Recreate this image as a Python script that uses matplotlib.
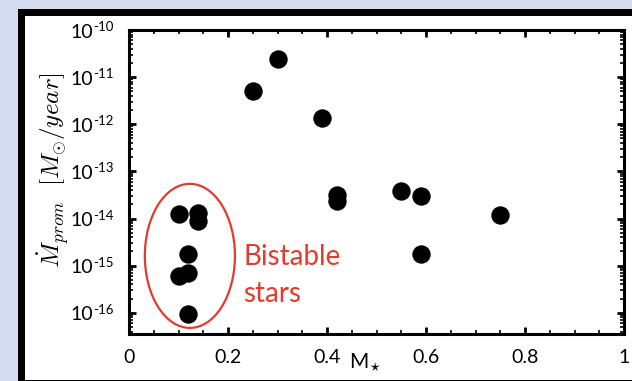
import matplotlib
matplotlib.use("Agg")
import matplotlib.pyplot as plt
from matplotlib.patches import Rectangle, Ellipse
from matplotlib.ticker import LogLocator, MultipleLocator, FixedLocator, NullFormatter

plt.rcParams['font.family'] = ['Lato', 'DejaVu Sans']
plt.rcParams['mathtext.fontset'] = 'cm'

mass = [0.30, 0.25, 0.39, 0.42, 0.42, 0.55, 0.59, 0.75, 0.59,
        0.10, 0.14, 0.14, 0.12, 0.10, 0.12, 0.12]
mdot = [2.4e-11, 5.1e-12, 1.38e-12, 3.1e-14, 2.3e-14, 3.8e-14, 2.95e-14, 1.17e-14, 1.8e-15,
        1.23e-14, 1.29e-14, 8.7e-15, 1.75e-15, 6.0e-16, 6.9e-16, 9.4e-17]
xticks = [0, 0.2, 0.4, 0.6, 0.8, 1]
xticklabels = ['0', '0.2', '0.4', '0.6', '0.8', '1']
ydecades = [-16, -15, -14, -13, -12, -11, -10]

W, H = 632, 381
PT = 0.72  # points per pixel at dpi 100
fig = plt.figure(figsize=(W / 100, H / 100), dpi=100)
fig.patch.set_facecolor('#d3dbee')

# black frame with white inside (extends beyond right/bottom edges)
lw_px = 7
frame = Rectangle((20.5 / W, -1.5 / H), 1.2, (H - 11.5 + 1.5) / H,
                  transform=fig.transFigure, facecolor='white', edgecolor='black',
                  linewidth=lw_px * PT, zorder=-5)
fig.patches.append(frame)

ax = fig.add_axes([129 / W, (H - 334) / H, 495 / W, 304 / H])
ax.set_facecolor('white')
ax.set_yscale('log')
ax.set_xlim(0, 1)
ax.set_ylim(10 ** -16.45, 1e-10)

ax.scatter(mass, mdot, s=175, color='black', zorder=3, linewidths=0)

for sp in ax.spines.values():
    sp.set_linewidth(2.2)

ax.xaxis.set_major_locator(FixedLocator(xticks))
ax.set_xticklabels(xticklabels, fontsize=14)
ax.xaxis.set_minor_locator(MultipleLocator(0.05))
ax.yaxis.set_major_locator(FixedLocator([10.0 ** d for d in ydecades]))
ax.set_yticklabels([''] * len(ydecades))
ax.yaxis.set_minor_locator(LogLocator(base=10, subs=range(2, 10), numticks=20))
ax.yaxis.set_minor_formatter(NullFormatter())

ax.tick_params(which='major', direction='in', length=5, width=2, top=True, right=True)
ax.tick_params(which='minor', direction='in', length=3, width=1.2, top=True, right=True)
ax.tick_params(axis='x', which='major', pad=11)

# y tick labels "10" with hyphen superscript exponent
for d in ydecades:
    ax.annotate('10', xy=(0, 10.0 ** d), xycoords=('axes fraction', 'data'),
                xytext=(-36 * PT, -2 * PT), textcoords='offset points',
                ha='right', va='center', fontsize=14, annotation_clip=False)
    ax.annotate('-%d' % (-d), xy=(0, 10.0 ** d), xycoords=('axes fraction', 'data'),
                xytext=(-36 * PT, 3 * PT), textcoords='offset points',
                ha='left', va='center', fontsize=9.5, annotation_clip=False)

ax.text(-0.154, 0.54, r'$\dot{M}_{prom}\ \ [M_{\odot}/year]$', transform=ax.transAxes,
        rotation=90, ha='center', va='center', fontsize=18)
ax.text(0.477, -0.095, r'M$_{\star}$', transform=ax.transAxes, ha='center', va='center',
        fontsize=15)

red = '#e33b2e'
ell = Ellipse((0.123, 0.257), 0.182, 0.474, transform=ax.transAxes, fill=False,
              edgecolor=red, linewidth=1.6, zorder=4)
ax.add_patch(ell)
tx = (243 - 129) / 495
ax.text(tx, (334 - 265) / 304, 'Bistable', transform=ax.transAxes,
        ha='left', va='baseline', color=red, fontsize=20)
ax.text(tx, (334 - 302) / 304, 'stars', transform=ax.transAxes,
        ha='left', va='baseline', color=red, fontsize=20)

fig.savefig('out.png', dpi=100, facecolor=fig.get_facecolor())
